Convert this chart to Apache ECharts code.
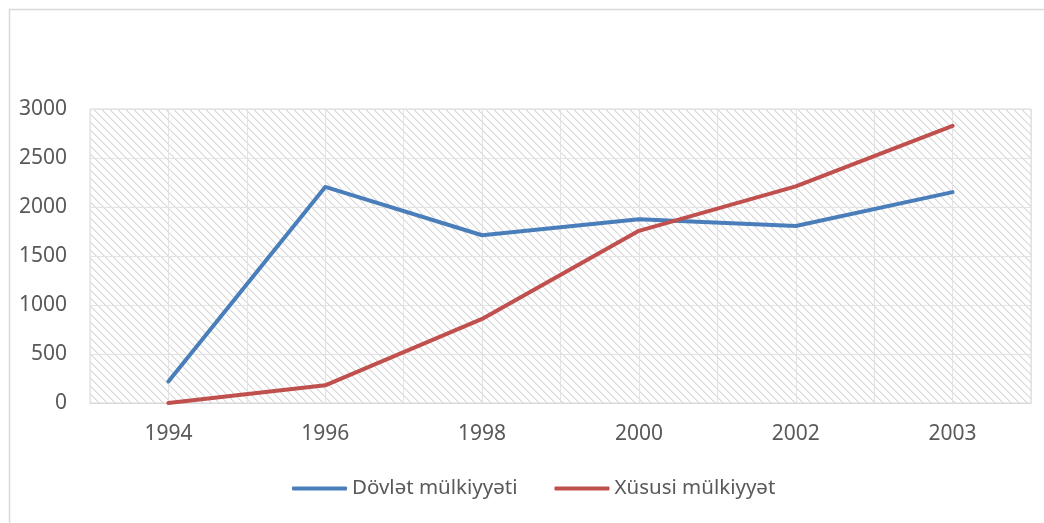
<!DOCTYPE html>
<html>
<head>
<meta charset="utf-8">
<script src="https://cdn.jsdelivr.net/npm/echarts@6/dist/echarts.min.js"></script>
<style>
html,body{margin:0;padding:0;background:#fff;}
#chart{width:1044px;height:523px;}
</style>
</head>
<body>
<div id="chart"></div>
<script>
var categories = ['1994', '1996', '1998', '2000', '2002', '2003'];
var dovlet = [220, 2205, 1712, 1875, 1806, 2152];
var xususi = [0, 180, 858, 1757, 2210, 2828];
var seriesNames = ['Dövlət mülkiyyəti', 'Xüsusi mülkiyyət'];
var halfSteps = ['a','b','c','d','e','f','g','h','i','j','k','l'];

function makeHatch() {
  var c = document.createElement('canvas');
  c.width = 8; c.height = 8;
  var ctx = c.getContext('2d');
  ctx.fillStyle = '#ffffff';
  ctx.fillRect(0, 0, 8, 8);
  var img = ctx.getImageData(0, 0, 8, 8);
  for (var y = 0; y < 8; y++) {
    for (var x = 0; x < 8; x++) {
      var d = ((x - y) % 8 + 8) % 8;
      if (d === 0 || d === 1) {
        var v = ((x + y) % 2 === 0) ? 215 : 236;
        var i = (y * 8 + x) * 4;
        img.data[i] = v; img.data[i+1] = v; img.data[i+2] = v; img.data[i+3] = 255;
      }
    }
  }
  ctx.putImageData(img, 0, 0);
  return c;
}

var font = 'Noto Sans';
var chart = echarts.init(document.getElementById('chart'), null, {renderer: 'canvas'});
chart.setOption({
  animation: false,
  backgroundColor: '#ffffff',
  graphic: [{
    type: 'rect', left: 7, top: 7, z: -10, silent: true,
    shape: {width: 1100, height: 600},
    style: {fill: 'none', stroke: '#d9d9d9', lineWidth: 1.5}
  }],
  grid: {
    left: 90, right: 13, top: 109, bottom: 120,
    show: true, borderColor: '#d9d9d9', borderWidth: 1,
    backgroundColor: {image: makeHatch(), repeat: 'repeat'}
  },
  legend: {
    left: 292, top: 478, padding: 0,
    itemWidth: 55, itemHeight: 4, itemGap: 37,
    icon: 'roundRect',
    textStyle: {fontFamily: font, fontSize: 20.5, color: '#595959'},
    data: seriesNames
  },
  xAxis: [{
    type: 'category', data: categories, boundaryGap: true,
    axisLine: {lineStyle: {color: '#d9d9d9', width: 1}},
    axisTick: {show: false},
    axisLabel: {fontFamily: font, fontSize: 21, color: '#595959', margin: 21},
    splitLine: {show: false}
  }, {
    type: 'category', data: halfSteps, boundaryGap: true, position: 'bottom',
    axisLine: {show: false}, axisTick: {show: false}, axisLabel: {show: false},
    splitLine: {show: true, lineStyle: {color: '#e3e3e3', width: 1}}
  }],
  yAxis: {
    type: 'value', min: 0, max: 3000, interval: 500,
    axisLine: {show: false}, axisTick: {show: false},
    axisLabel: {fontFamily: font, fontSize: 21, color: '#595959', margin: 23,
      formatter: function (v) { return String(v); }},
    splitLine: {lineStyle: {color: '#e3e3e3', width: 1}}
  },
  series: [{
    name: seriesNames[0], type: 'line', data: dovlet, xAxisIndex: 0,
    showSymbol: false, symbol: 'none',
    lineStyle: {color: '#4a7ebb', width: 4, cap: 'round', join: 'round'},
    itemStyle: {color: '#4a7ebb'}
  }, {
    name: seriesNames[1], type: 'line', data: xususi, xAxisIndex: 0,
    showSymbol: false, symbol: 'none',
    lineStyle: {color: '#c0504d', width: 4, cap: 'round', join: 'round'},
    itemStyle: {color: '#c0504d'}
  }]
});
</script>
</body>
</html>
